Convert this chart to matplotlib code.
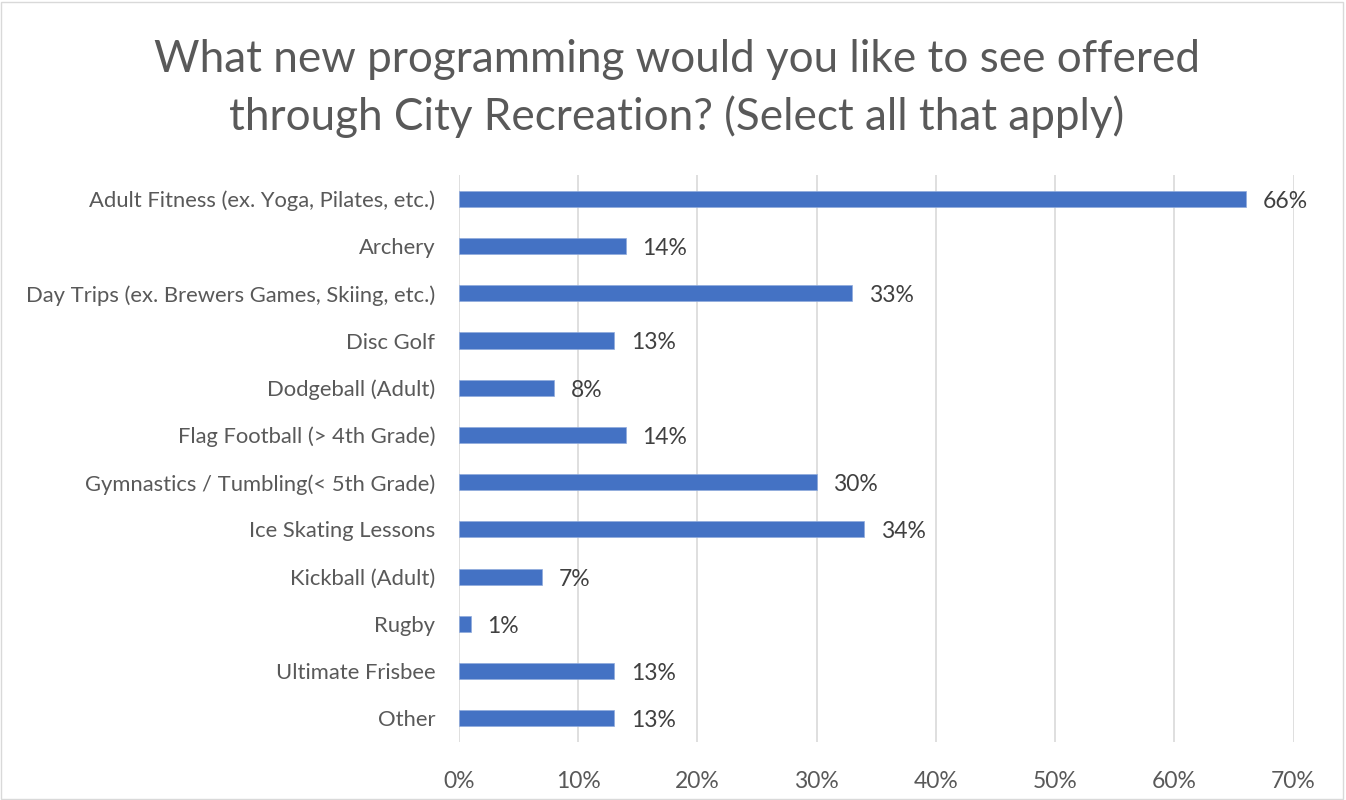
import matplotlib
matplotlib.use('Agg')
import matplotlib.pyplot as plt
from matplotlib.patches import Rectangle
from matplotlib.ticker import FuncFormatter

categories = [
    'Adult Fitness (ex. Yoga, Pilates, etc.)',
    'Archery',
    'Day Trips (ex. Brewers Games, Skiing, etc.)',
    'Disc Golf',
    'Dodgeball (Adult)',
    'Flag Football (> 4th Grade)',
    'Gymnastics / Tumbling(< 5th Grade)',
    'Ice Skating Lessons',
    'Kickball (Adult)',
    'Rugby',
    'Ultimate Frisbee',
    'Other',
]
values = [66, 14, 33, 13, 8, 14, 30, 34, 7, 1, 13, 13]
x_ticks = [0, 10, 20, 30, 40, 50, 60, 70]

plt.rcParams['font.family'] = ['Lato', 'DejaVu Sans']
text_color = '#595959'

fig = plt.figure(figsize=(13.46, 8), dpi=100)
ax = fig.add_axes([0.341, 0.0725, 0.620, 0.7085])

# frame around the chart
fig.patches.append(Rectangle((0.001, 0.001), 0.997, 0.997, transform=fig.transFigure,
                             fill=False, edgecolor='#D9D9D9', linewidth=1))

positions = list(range(len(categories)))
ax.barh(positions, values, height=0.34, color='#4472C4', edgecolor='#8FAADC', linewidth=0.5, zorder=3)
for pos, val in zip(positions, values):
    ax.text(val + 1.4, pos + 0.05, f'{val}%', va='center', ha='left', fontsize=16.5, color='#404040')

ax.set_yticks(positions)
ax.set_yticklabels(categories, fontsize=15.8, color=text_color)
ax.set_ylim(len(categories) - 0.5, -0.5)

ax.set_xlim(0, 70)
ax.set_xticks(x_ticks)
ax.xaxis.set_major_formatter(FuncFormatter(lambda v, p: f'{v:.0f}%'))
ax.tick_params(axis='x', labelsize=16.5, labelcolor=text_color, length=0, pad=21)
ax.tick_params(axis='y', length=0, pad=17)
ax.grid(axis='x', color='#D9D9D9', linewidth=1.2, zorder=0)
for s in ax.spines.values():
    s.set_visible(False)

fig.text(0.503, 0.889, 'What new programming would you like to see offered\nthrough City Recreation? (Select all that apply)',
         ha='center', va='center', fontsize=31.7, color=text_color, linespacing=1.45)

plt.savefig('out.png', dpi=100)
